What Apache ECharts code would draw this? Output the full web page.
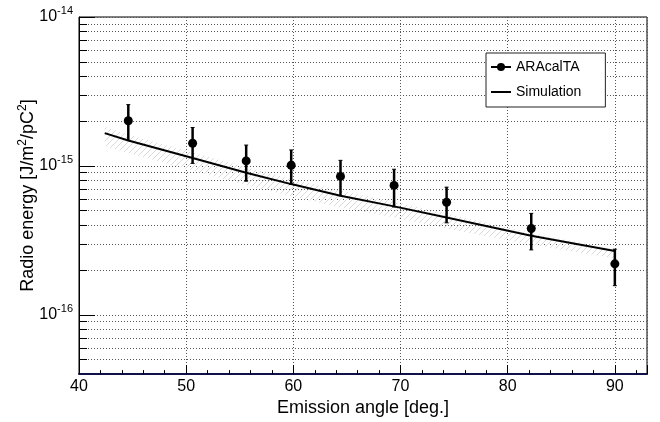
<!DOCTYPE html>
<html>
<head>
<meta charset="utf-8">
<script src="https://cdn.jsdelivr.net/npm/echarts@6/dist/echarts.min.js"></script>
<style>
  html, body { margin: 0; padding: 0; background: #fff; }
  #main { width: 660px; height: 422px; }
</style>
</head>
<body>
<div id="main"></div>
<script>
// measured points (ARAcalTA)
var angle = [44.6, 50.6, 55.6, 59.8, 64.4, 69.4, 74.3, 82.2, 90.0];
var energy = [2.01e-15, 1.42e-15, 1.08e-15, 1.01e-15, 8.5e-16, 7.4e-16, 5.7e-16, 3.8e-16, 2.2e-16];
var errHigh = [2.58e-15, 1.81e-15, 1.38e-15, 1.28e-15, 1.09e-15, 9.5e-16, 7.2e-16, 4.8e-16, 2.76e-16];
var errLow = [1.48e-15, 1.04e-15, 7.9e-16, 7.5e-16, 6.3e-16, 5.3e-16, 4.15e-16, 2.73e-16, 1.57e-16];

// simulation curve and its band
var simAngle = [42.4, 44.6, 50.6, 55.6, 59.8, 64.4, 69.4, 74.3, 82.2, 90.0];
var simEnergy = [1.66e-15, 1.48e-15, 1.13e-15, 9.0e-16, 7.55e-16, 6.3e-16, 5.35e-16, 4.5e-16, 3.4e-16, 2.68e-16];
var simHigh = [1.83e-15, 1.62e-15, 1.23e-15, 9.8e-16, 8.2e-16, 6.8e-16, 5.75e-16, 4.8e-16, 3.55e-16, 2.75e-16];
var simLow = [1.36e-15, 1.22e-15, 9.3e-16, 7.45e-16, 6.25e-16, 5.25e-16, 4.5e-16, 3.8e-16, 2.95e-16, 2.4e-16];

// axis ticks
var yMajor = [1e-16, 1e-15, 1e-14];
var yMinor = [];
[1e-17, 1e-16, 1e-15].forEach(function (d) {
    for (var k = 2; k <= 9; k++) {
        var v = k * d;
        if (v > 4.01e-17) yMinor.push(v);
    }
});

var myChart = echarts.init(document.getElementById('main'));

// hatch pattern for the simulation band
var hatch = document.createElement('canvas');
hatch.width = 6;
hatch.height = 6;
var hctx = hatch.getContext('2d');
hctx.strokeStyle = '#d9d9d9';
hctx.lineWidth = 1;
hctx.beginPath();
hctx.moveTo(-1, 7);
hctx.lineTo(7, -1);
hctx.stroke();

var font = 'Liberation Sans, Arial, Helvetica, sans-serif';
var dotted = { color: '#555', width: 1, type: [1, 2] };

var option = {
    animation: false,
    grid: {
        left: 79, right: 13, top: 17, bottom: 47,
        show: true, borderColor: '#000', borderWidth: 1, backgroundColor: '#fff'
    },
    legend: {
        orient: 'vertical',
        left: 486, top: 53,
        padding: [7, 24, 8, 4],
        itemWidth: 20, itemHeight: 10, itemGap: 11,
        backgroundColor: '#fff',
        borderColor: '#222', borderWidth: 1,
        textStyle: { fontFamily: font, fontSize: 14, color: '#000' },
        data: [
            { name: 'ARAcalTA', lineStyle: { opacity: 1, width: 2, color: '#000' } },
            { name: 'Simulation', itemStyle: { opacity: 0 } }
        ]
    },
    xAxis: {
        type: 'value',
        min: 40, max: 93, interval: 10,
        name: 'Emission angle [deg.]',
        nameLocation: 'middle', nameGap: 24,
        nameTextStyle: { fontFamily: font, fontSize: 18, color: '#000' },
        axisLine: { lineStyle: { color: '#10104a', width: 2 } },
        axisTick: { inside: true, length: 9, lineStyle: { color: '#000' } },
        minorTick: { show: true, splitNumber: 5, length: 4, lineStyle: { color: '#000' } },
        axisLabel: { fontFamily: font, fontSize: 16, color: '#000', margin: 4, showMaxLabel: false },
        splitLine: { show: true, lineStyle: dotted }
    },
    yAxis: [{
        type: 'log', logBase: 10,
        min: 4e-17, max: 1e-14,
        name: 'Radio energy [J/m{s|2}/pC{s|2}]',
        nameLocation: 'middle', nameGap: 40, nameRotate: 90,
        nameMoveOverlap: false,
        nameTextStyle: {
            fontFamily: font, fontSize: 18, color: '#000',
            rich: { s: { fontFamily: font, fontSize: 12, color: '#000', padding: [0, 0, 10, 0] } }
        },
        axisLine: { show: true, lineStyle: { color: '#000', width: 1 } },
        axisTick: { inside: true, length: 16, customValues: yMajor, lineStyle: { color: '#000' } },
        axisLabel: {
            customValues: yMajor,
            margin: 6,
            formatter: function (v) {
                return '{b|10}{s|' + Math.round(Math.log10(v)) + '}';
            },
            rich: {
                b: { fontFamily: font, fontSize: 16, color: '#000' },
                s: { fontFamily: font, fontSize: 11, color: '#000', padding: [0, 0, 12, 0] }
            }
        },
        splitLine: { show: true, lineStyle: dotted }
    }, {
        type: 'log', logBase: 10,
        min: 4e-17, max: 1e-14,
        position: 'left',
        axisLine: { show: false },
        axisTick: { show: true, inside: true, length: 8, customValues: yMinor, lineStyle: { color: '#000' } },
        axisLabel: { show: false },
        splitLine: { show: true, lineStyle: dotted }
    }],
    series: [{
        name: 'band',
        type: 'custom',
        silent: true,
        clip: true,
        z: 1,
        data: [0],
        renderItem: function (params, api) {
            var pts = [];
            for (var i = 0; i < simAngle.length; i++) pts.push(api.coord([simAngle[i], simHigh[i]]));
            for (var j = simAngle.length - 1; j >= 0; j--) pts.push(api.coord([simAngle[j], simLow[j]]));
            return {
                type: 'polygon',
                shape: { points: pts },
                style: { fill: { image: hatch, repeat: 'repeat' }, stroke: null }
            };
        }
    }, {
        name: 'Simulation',
        type: 'line',
        silent: true,
        z: 3,
        symbol: 'none',
        lineStyle: { color: '#000', width: 2 },
        itemStyle: { color: '#000' },
        data: simAngle.map(function (x, i) { return [x, simEnergy[i]]; })
    }, {
        name: 'errors',
        type: 'custom',
        silent: true,
        z: 4,
        data: angle.map(function (x, i) { return [x, errLow[i], errHigh[i]]; }),
        renderItem: function (params, api) {
            var lo = api.coord([api.value(0), api.value(1)]);
            var hi = api.coord([api.value(0), api.value(2)]);
            var st = { stroke: '#000', lineWidth: 2.5 };
            var cap = { stroke: '#000', lineWidth: 1 };
            return {
                type: 'group',
                children: [
                    { type: 'line', shape: { x1: lo[0], y1: lo[1], x2: hi[0], y2: hi[1] }, style: st },
                    { type: 'line', shape: { x1: lo[0] - 2, y1: lo[1], x2: lo[0] + 2, y2: lo[1] }, style: cap },
                    { type: 'line', shape: { x1: hi[0] - 2, y1: hi[1], x2: hi[0] + 2, y2: hi[1] }, style: cap }
                ]
            };
        }
    }, {
        name: 'ARAcalTA',
        type: 'line',
        silent: true,
        z: 5,
        symbol: 'circle',
        symbolSize: 9,
        showSymbol: true,
        lineStyle: { opacity: 0, width: 2, color: '#000' },
        itemStyle: { color: '#000', borderWidth: 0 },
        data: angle.map(function (x, i) { return [x, energy[i]]; })
    }]
};

myChart.setOption(option);
</script>
</body>
</html>
